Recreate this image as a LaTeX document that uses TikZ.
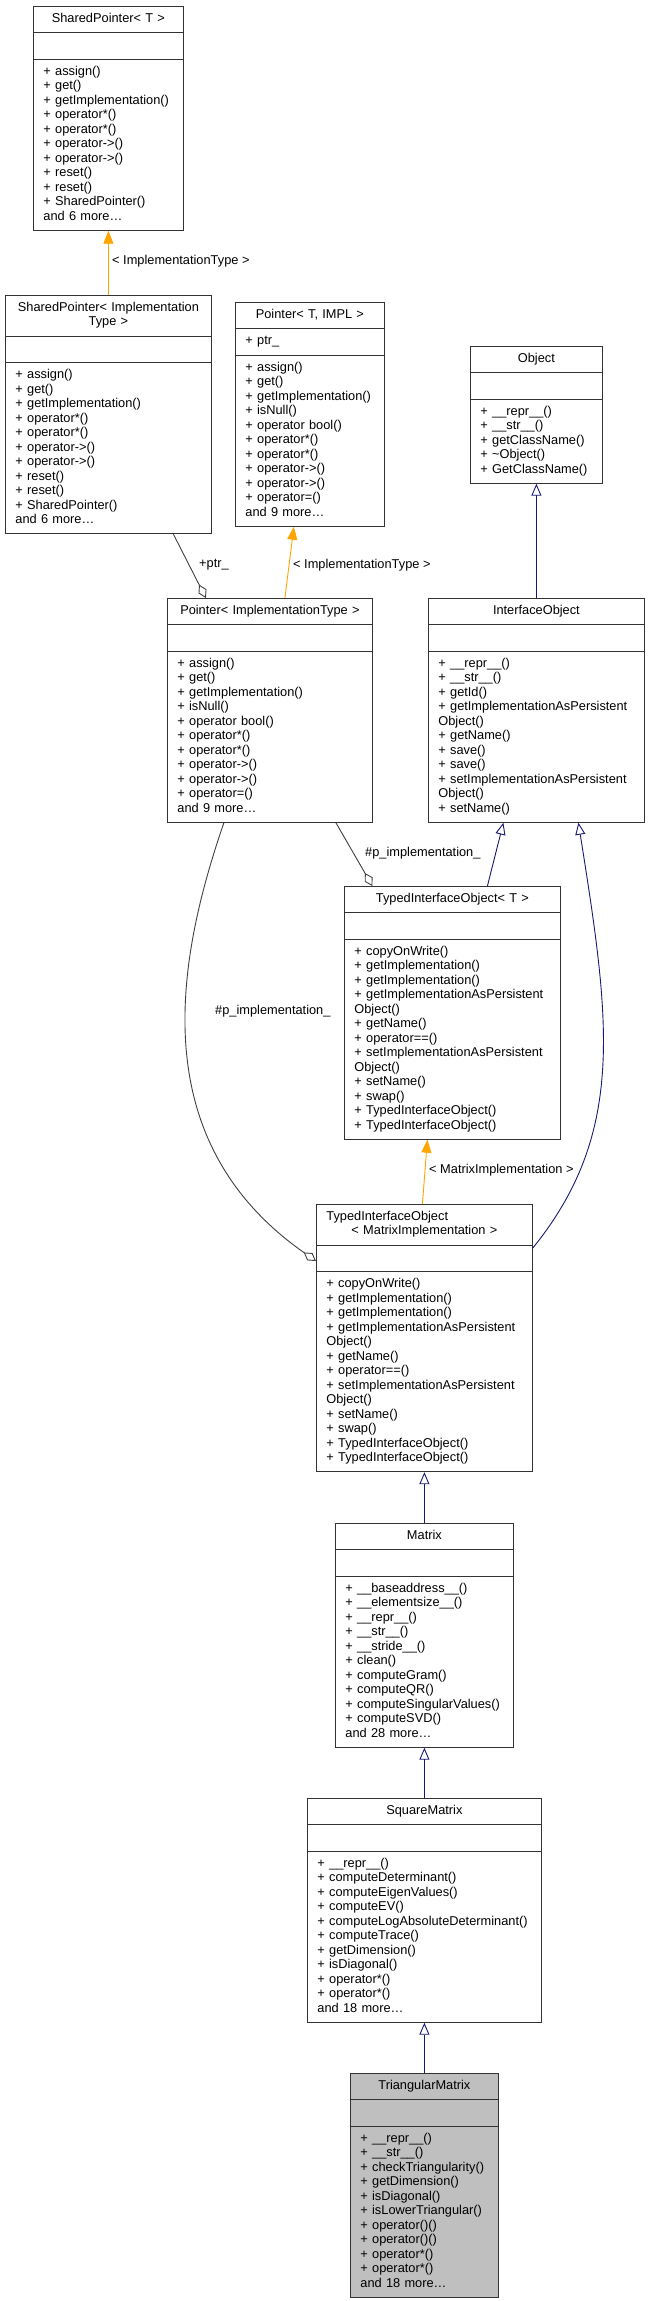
\documentclass[tikz,border=0pt]{standalone}
\usepackage{fontspec}
\setmainfont{Liberation Sans}
\usepackage{xcolor}
\usetikzlibrary{shapes.multipart,arrows.meta}

\definecolor{edgeblue}{RGB}{25,25,112}
\definecolor{edgegray}{RGB}{64,64,64}
\definecolor{edgeorange}{RGB}{255,165,0}
\definecolor{curfill}{RGB}{191,191,191}

\tikzset{
  classbox/.style={rectangle split, rectangle split parts=3, draw=black!80, line width=0.8pt,
    fill=white, anchor=north west, inner xsep=10pt, inner ysep=5.5pt, align=left,
    font=\fontsize{12.8}{14.5}\selectfont},
  inherit/.style={edgeblue, line width=0.9pt, -{Triangle[open,length=12pt,width=10pt]}},
  instance/.style={edgeorange, line width=0.9pt, -{Triangle[length=13pt,width=10pt]}},
  member/.style={edgegray, line width=0.9pt, -{Diamond[open,length=15pt,width=9pt]}},
  elabel/.style={anchor=west, inner sep=0pt, font=\fontsize{12.8}{14.5}\selectfont},
}

\begin{document}
\begin{tikzpicture}[x=1pt, y=-1pt]
    \useasboundingbox (0,0) rectangle (649,2301);

    % templates and pointers
    \node[classbox, text width=130pt] at (33,6) (spt) {\strut\makebox[\hsize]{SharedPointer< T >}\strut
      \nodepart{two}\strut
      \nodepart{three}\strut + assign()\\ + get()\\ + getImplementation()\\ + operator*()\\ + operator*()\\
      + operator->()\\ + operator->()\\ + reset()\\ + reset()\\ + SharedPointer()\\ and 6 more\ldots\strut};

    \node[classbox, text width=186pt] at (5,295) (spit) {\strut\makebox[\hsize]{SharedPointer< Implementation}\\
      \makebox[\hsize]{Type >}\strut
      \nodepart{two}\strut
      \nodepart{three}\strut + assign()\\ + get()\\ + getImplementation()\\ + operator*()\\ + operator*()\\
      + operator->()\\ + operator->()\\ + reset()\\ + reset()\\ + SharedPointer()\\ and 6 more\ldots\strut};

    \node[classbox, text width=129pt] at (235,302) (ptimpl) {\strut\makebox[\hsize]{Pointer< T, IMPL >}\strut
      \nodepart{two}\strut + ptr\_\strut
      \nodepart{three}\strut + assign()\\ + get()\\ + getImplementation()\\ + isNull()\\ + operator bool()\\
      + operator*()\\ + operator*()\\ + operator->()\\ + operator->()\\ + operator=()\\ and 9 more\ldots\strut};

    \node[classbox, text width=185pt] at (167,598) (pit) {\strut\makebox[\hsize]{Pointer< ImplementationType >}\strut
      \nodepart{two}\strut
      \nodepart{three}\strut + assign()\\ + get()\\ + getImplementation()\\ + isNull()\\ + operator bool()\\
      + operator*()\\ + operator*()\\ + operator->()\\ + operator->()\\ + operator=()\\ and 9 more\ldots\strut};

    % object hierarchy
    \node[classbox, text width=112pt] at (470,346) (obj) {\strut\makebox[\hsize]{Object}\strut
      \nodepart{two}\strut
      \nodepart{three}\strut + \_\_repr\_\_()\\ + \_\_str\_\_()\\ + getClassName()\\ + \textasciitilde Object()\\
      + GetClassName()\strut};

    \node[classbox, text width=196pt] at (428,598) (iobj) {\strut\makebox[\hsize]{InterfaceObject}\strut
      \nodepart{two}\strut
      \nodepart{three}\strut + \_\_repr\_\_()\\ + \_\_str\_\_()\\ + getId()\\ + getImplementationAsPersistent\\ Object()\\
      + getName()\\ + save()\\ + save()\\ + setImplementationAsPersistent\\ Object()\\ + setName()\strut};

    \node[classbox, text width=196pt] at (344,886) (tiot) {\strut\makebox[\hsize]{TypedInterfaceObject< T >}\strut
      \nodepart{two}\strut
      \nodepart{three}\strut + copyOnWrite()\\ + getImplementation()\\ + getImplementation()\\
      + getImplementationAsPersistent\\ Object()\\ + getName()\\ + operator==()\\ + setImplementationAsPersistent\\
      Object()\\ + setName()\\ + swap()\\ + TypedInterfaceObject()\\ + TypedInterfaceObject()\strut};

    \node[classbox, text width=196pt] at (316,1204) (tiom) {\strut\makebox[\hsize][l]{TypedInterfaceObject}\\
      \makebox[\hsize]{< MatrixImplementation >}\strut
      \nodepart{two}\strut
      \nodepart{three}\strut + copyOnWrite()\\ + getImplementation()\\ + getImplementation()\\
      + getImplementationAsPersistent\\ Object()\\ + getName()\\ + operator==()\\ + setImplementationAsPersistent\\
      Object()\\ + setName()\\ + swap()\\ + TypedInterfaceObject()\\ + TypedInterfaceObject()\strut};

    % matrices
    \node[classbox, text width=158pt] at (335,1523) (mat) {\strut\makebox[\hsize]{Matrix}\strut
      \nodepart{two}\strut
      \nodepart{three}\strut + \_\_baseaddress\_\_()\\ + \_\_elementsize\_\_()\\ + \_\_repr\_\_()\\ + \_\_str\_\_()\\
      + \_\_stride\_\_()\\ + clean()\\ + computeGram()\\ + computeQR()\\ + computeSingularValues()\\
      + computeSVD()\\ and 28 more\ldots\strut};

    \node[classbox, text width=214pt] at (307,1798) (sqm) {\strut\makebox[\hsize]{SquareMatrix}\strut
      \nodepart{two}\strut
      \nodepart{three}\strut + \_\_repr\_\_()\\ + computeDeterminant()\\ + computeEigenValues()\\ + computeEV()\\
      + computeLogAbsoluteDeterminant()\\ + computeTrace()\\ + getDimension()\\ + isDiagonal()\\
      + operator*()\\ + operator*()\\ and 18 more\ldots\strut};

    \node[classbox, text width=128pt, fill=curfill] at (350,2073) (trm) {\strut\makebox[\hsize]{TriangularMatrix}\strut
      \nodepart{two}\strut
      \nodepart{three}\strut + \_\_repr\_\_()\\ + \_\_str\_\_()\\ + checkTriangularity()\\ + getDimension()\\
      + isDiagonal()\\ + isLowerTriangular()\\ + operator()()\\ + operator()()\\ + operator*()\\
      + operator*()\\ and 18 more\ldots\strut};

    % edges
    \draw[instance] (spit.north) -- (spt.south);
    \draw[instance] ([xshift=15pt]pit.north) -- ([xshift=-16pt]ptimpl.south);
    \draw[member] ([xshift=65pt]spit.south) -- ([xshift=-64pt]pit.north);
    \draw[inherit] (iobj.north) -- (obj.south);
    \draw[inherit] ([xshift=35pt]tiot.north) -- ([xshift=-33pt]iobj.south);
    \draw[member] ([xshift=66pt]pit.south) -- ([xshift=-80pt]tiot.north);
    \draw[inherit] ([yshift=-44pt]tiom.north east)
      to[out=51, in=-81, out distance=149pt, in distance=200pt] ([xshift=42pt]iobj.south);
    \draw[member] ([xshift=-46pt]pit.south)
      to[out=-109, in=145, out distance=147pt, in distance=210pt] ([yshift=-57pt]tiom.north west);
    \draw[instance] ([xshift=-2pt]tiom.north) -- ([xshift=-25pt]tiot.south);
    \draw[inherit] (mat.north) -- (tiom.south);
    \draw[inherit] (sqm.north) -- (mat.south);
    \draw[inherit] (trm.north) -- (sqm.south);

    % edge labels
    \node[elabel] at (112,261) (lab_sp) {< ImplementationType >};
    \node[elabel] at (199,565) (lab_ptr) {+ptr\_};
    \node[elabel] at (293,565) (lab_pt) {< ImplementationType >};
    \node[elabel] at (365,853) (lab_pimpl) {\#p\_implementation\_};
    \node[elabel] at (215,1011) (lab_pimpl2) {\#p\_implementation\_};
    \node[elabel] at (429,1170) (lab_mi) {< MatrixImplementation >};
  \end{tikzpicture}
\end{document}
